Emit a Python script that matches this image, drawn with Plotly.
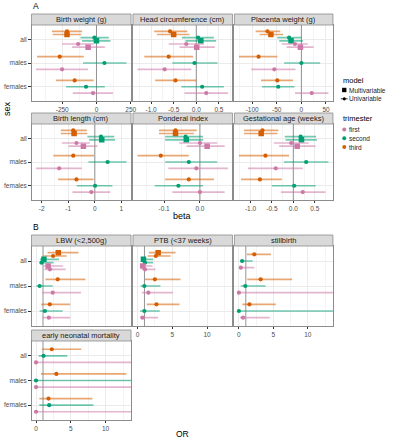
import plotly.graph_objects as go

W, H = 400, 440
FONT = "Liberation Sans, Arial, Helvetica, sans-serif"

# ---------------- categories ----------------
sexes = ["all", "males", "females"]
sex_pos = [3, 2, 1]
trimesters = ["first", "second", "third"]
tri_colors = ["#CC79A7", "#009E73", "#D55E00"]
tri_line_colors = ["rgba(204,121,167,0.55)", "rgba(0,158,115,0.55)", "rgba(213,94,0,0.55)"]
model_names = ["Multivariable", "Univariable"]

# ---------------- data (rows: all, males, females; cols: first, second, third) ----------------
# Birth weight (g)
bw_uni_est = [[-134, -15, -215], [-251, 58, -268], [-25, -76, -159]]
bw_uni_lo = [[-251, -117, -325], [-441, -98, -434], [-173, -222, -295]]
bw_uni_hi = [[-20, 90, -105], [-61, 219, -93], [121, 61, -20]]
bw_multi_est = [-61, 0, -215]
bw_multi_lo = [-178, -105, -320]
bw_multi_hi = [61, 102, -110]
bw_ticks = [-250, 0, 250]
bw_ticklabels = ["-250", "0", "250"]

# Head circumference (cm)
hc_uni_est = [[-0.22, 0.04, -0.58], [-0.70, -0.04, -0.61], [0.22, 0.13, -0.46]]
hc_uni_lo = [[-0.61, -0.32, -0.93], [-1.30, -0.53, -1.15], [-0.26, -0.33, -0.91]]
hc_uni_hi = [[0.17, 0.39, -0.20], [-0.11, 0.47, -0.07], [0.70, 0.61, 0.0]]
hc_multi_est = [0.01, 0.10, -0.50]
hc_multi_lo = [-0.37, -0.24, -0.87]
hc_multi_hi = [0.41, 0.44, -0.15]
hc_ticks = [-1.0, -0.5, 0.0, 0.5]
hc_ticklabels = ["-1.0", "-0.5", "0.0", "0.5"]

# Placenta weight (g)
pw_uni_est = [[-13, -25, -69], [-55, 0, -87], [21, -47, -49]]
pw_uni_lo = [[-40, -49, -93], [-102, -35, -127], [-13, -80, -82]]
pw_uni_hi = [[13, 0, -43], [-12, 38, -49], [55, -14, -17]]
pw_multi_est = [-2, -21, -62]
pw_multi_lo = [-30, -45, -85]
pw_multi_hi = [25, 3, -37]
pw_ticks = [-100, -50, 0, 50]
pw_ticklabels = ["-100", "-50", "0", "50"]

# Birth length (cm)
bl_uni_est = [[-0.69, 0.23, -0.81], [-1.34, 0.48, -0.81], [-0.13, 0.01, -0.69]]
bl_uni_lo = [[-1.24, -0.28, -1.28], [-2.21, -0.24, -1.56], [-0.84, -0.68, -1.38]]
bl_uni_hi = [[-0.19, 0.73, -0.30], [-0.49, 1.19, -0.03], [0.58, 0.66, -0.05]]
bl_multi_est = [-0.43, 0.26, -0.78]
bl_multi_lo = [-0.99, -0.21, -1.28]
bl_multi_hi = [0.10, 0.76, -0.28]
bl_ticks = [-2, -1, 0, 1]
bl_ticklabels = ["-2", "-1", "0", "1"]

# Ponderal index
pi_uni_est = [[0.0, -0.040, -0.068], [-0.010, -0.031, -0.109], [0.0, -0.060, -0.031]]
pi_uni_lo = [[-0.058, -0.097, -0.114], [-0.088, -0.097, -0.174], [-0.077, -0.126, -0.097]]
pi_uni_hi = [[0.048, 0.009, -0.009], [0.078, 0.048, -0.031], [0.069, 0.009, 0.039]]
pi_multi_est = [0.020, -0.038, -0.068]
pi_multi_lo = [-0.037, -0.097, -0.114]
pi_multi_hi = [0.069, 0.009, -0.017]
pi_ticks = [-0.1, 0.0]
pi_ticklabels = ["-0.1", "0.0"]

# Gestational age (weeks)
ga_uni_est = [[-0.05, 0.17, -0.72], [-0.41, 0.30, -0.65], [0.22, 0.02, -0.78]]
ga_uni_lo = [[-0.45, -0.20, -1.15], [-1.06, -0.22, -1.27], [-0.29, -0.50, -1.22]]
ga_uni_hi = [[0.36, 0.53, -0.35], [0.22, 0.82, -0.10], [0.75, 0.52, -0.27]]
ga_multi_est = [0.09, 0.19, -0.75]
ga_multi_lo = [-0.33, -0.18, -1.15]
ga_multi_hi = [0.52, 0.55, -0.37]
ga_ticks = [-1.0, -0.5, 0.0, 0.5]
ga_ticklabels = ["-1.0", "-0.5", "0.0", "0.5"]

# LBW (<2,500g)
lbw_uni_est = [[2.0, 0.8, 2.45], [2.4, 0.52, 3.11], [1.84, 1.27, 1.98]]
lbw_uni_lo = [[1.2, 0.45, 1.1], [0.9, 0.05, 1.37], [0.9, 0.52, 0.75]]
lbw_uni_hi = [[4.25, 2.5, 4.4], [6.46, 2.4, 7.1], [4.9, 3.82, 4.9]]
lbw_multi_est = [1.74, 1.13, 3.2]
lbw_multi_lo = [1.08, 0.55, 1.65]
lbw_multi_hi = [3.9, 3.3, 6.1]

# PTB (<37 weeks)
ptb_uni_est = [[1.08, 1.08, 2.64], [1.56, 0.99, 2.5], [0.71, 0.99, 2.73]]
ptb_uni_lo = [[0.61, 0.71, 1.46], [0.61, 0.47, 1.08], [0.38, 0.38, 1.32]]
ptb_uni_hi = [[2.59, 2.26, 4.76], [5.1, 3.3, 6.18], [2.97, 3.2, 6.04]]
ptb_multi_est = [0.75, 0.85, 2.97]
ptb_multi_lo = [0.47, 0.52, 1.65]
ptb_multi_hi = [2.16, 2.26, 5.47]

# stillbirth
sb_uni_est = [[0.28, 0.47, 2.23], [0.0, 0.93, 3.16], [0.6, 0.0, 1.53]]
sb_uni_lo = [[0.0, 0.14, 1.16], [0.0, 0.28, 1.21], [0.14, 0.0, 0.51]]
sb_uni_hi = [[2.23, 2.0, 4.65], [40.0, 3.86, 7.72], [4.47, 40.0, 5.35]]

# early neonatal mortality
end_uni_est = [[0.0, 1.08, 2.26], [0.0, 0.0, 2.92], [0.0, 1.89, 1.79]]
end_uni_lo = [[0.0, 0.38, 0.85], [0.0, 0.0, 0.71], [0.0, 0.47, 0.47]]
end_uni_hi = [[40.0, 4.48, 6.5], [40.0, 40.0, 12.97], [40.0, 8.25, 8.1]]

or_xlim = [0, 13]
or_ticks = [0, 5, 10]
or_ticklabels = ["0", "5", "10"]

# ---------------- layout geometry (pixels) ----------------
cols = [(32, 133), (135, 236), (238, 338)]
A_rows = [(14, 25, 101), (113, 124, 200)]   # strip top, panel top, panel bottom
B_rows = [(235, 246, 326), (330, 341, 420)]
Y_RANGE = [0.4, 3.6]

GRID = "#EBEBEB"
MINOR = "#F4F4F4"
BORDER = "#8c8c8c"
STRIP_FILL = "#D9D9D9"
TICKCOL = "#4D4D4D"

panels = [
    dict(title="Birth weight (g)", uni=(bw_uni_est, bw_uni_lo, bw_uni_hi),
         multi=(bw_multi_est, bw_multi_lo, bw_multi_hi), ticks=bw_ticks, labels=bw_ticklabels,
         col=0, row=A_rows[0], part="A", xlab=True, ylab=True),
    dict(title="Head circumference (cm)", uni=(hc_uni_est, hc_uni_lo, hc_uni_hi),
         multi=(hc_multi_est, hc_multi_lo, hc_multi_hi), ticks=hc_ticks, labels=hc_ticklabels,
         col=1, row=A_rows[0], part="A", xlab=True, ylab=False),
    dict(title="Placenta weight (g)", uni=(pw_uni_est, pw_uni_lo, pw_uni_hi),
         multi=(pw_multi_est, pw_multi_lo, pw_multi_hi), ticks=pw_ticks, labels=pw_ticklabels,
         col=2, row=A_rows[0], part="A", xlab=True, ylab=False),
    dict(title="Birth length (cm)", uni=(bl_uni_est, bl_uni_lo, bl_uni_hi),
         multi=(bl_multi_est, bl_multi_lo, bl_multi_hi), ticks=bl_ticks, labels=bl_ticklabels,
         col=0, row=A_rows[1], part="A", xlab=True, ylab=True),
    dict(title="Ponderal index", uni=(pi_uni_est, pi_uni_lo, pi_uni_hi),
         multi=(pi_multi_est, pi_multi_lo, pi_multi_hi), ticks=pi_ticks, labels=pi_ticklabels,
         col=1, row=A_rows[1], part="A", xlab=True, ylab=False),
    dict(title="Gestational age (weeks)", uni=(ga_uni_est, ga_uni_lo, ga_uni_hi),
         multi=(ga_multi_est, ga_multi_lo, ga_multi_hi), ticks=ga_ticks, labels=ga_ticklabels,
         col=2, row=A_rows[1], part="A", xlab=True, ylab=False),
    dict(title="LBW (<2,500g)", uni=(lbw_uni_est, lbw_uni_lo, lbw_uni_hi),
         multi=(lbw_multi_est, lbw_multi_lo, lbw_multi_hi), ticks=or_ticks, labels=or_ticklabels,
         col=0, row=B_rows[0], part="B", xlab=False, ylab=True),
    dict(title="PTB (<37 weeks)", uni=(ptb_uni_est, ptb_uni_lo, ptb_uni_hi),
         multi=(ptb_multi_est, ptb_multi_lo, ptb_multi_hi), ticks=or_ticks, labels=or_ticklabels,
         col=1, row=B_rows[0], part="B", xlab=True, ylab=False),
    dict(title="stillbirth", uni=(sb_uni_est, sb_uni_lo, sb_uni_hi), multi=None,
         ticks=or_ticks, labels=or_ticklabels, col=2, row=B_rows[0], part="B", xlab=True, ylab=False),
    dict(title="early neonatal mortality", uni=(end_uni_est, end_uni_lo, end_uni_hi), multi=None,
         ticks=or_ticks, labels=or_ticklabels, col=0, row=B_rows[1], part="B", xlab=True, ylab=True),
]


def expand(lo, hi, f=0.05):
    span = hi - lo
    return [lo - f * span, hi + f * span]


def minor_vals(ticks):
    step = ticks[1] - ticks[0]
    return [ticks[0] - step / 2 + k * step for k in range(len(ticks) + 1)]


fig = go.Figure()
layout = dict(
    width=W, height=H, margin=dict(l=0, r=0, t=0, b=0),
    paper_bgcolor="white", plot_bgcolor="white", showlegend=False,
    font=dict(family=FONT, size=7, color="#1A1A1A"),
)
shapes = []
annotations = []

for k, p in enumerate(panels, start=1):
    xs = "" if k == 1 else str(k)
    x0, x1 = cols[p["col"]]
    st, pt, pb = p["row"]

    ue, ul, uh = p["uni"]
    if p["part"] == "A":
        all_lo = [v for r in ul for v in r] + (list(p["multi"][1]) if p["multi"] else [])
        all_hi = [v for r in uh for v in r] + (list(p["multi"][2]) if p["multi"] else [])
        xr = expand(min(all_lo), max(all_hi))
        ref = 0
        model_order = ["uni", "multi"]
    else:
        xr = expand(*or_xlim)
        ref = 1
        model_order = ["multi", "uni"]

    # reference line (drawn first, under the points)
    fig.add_trace(go.Scatter(
        x=[ref, ref], y=Y_RANGE, mode="lines", xaxis="x" + xs, yaxis="y" + xs,
        line=dict(color="#7a7a7a", width=0.8), hoverinfo="skip", cliponaxis=True,
    ))

    # build dodged items
    groups = {}
    for si, s in enumerate(sexes):
        items = []
        for t in [2, 1, 0]:
            for m in model_order:
                if m == "uni":
                    items.append((t, m, ue[si][t], ul[si][t], uh[si][t]))
                elif p["multi"] is not None and s == "all":
                    me, ml, mh = p["multi"]
                    items.append((t, m, me[t], ml[t], mh[t]))
        n = len(items)
        for i, (t, m, e, lo, hi) in enumerate(items):
            yv = sex_pos[si] + 0.8 * ((n - 1) / 2 - i) / n
            g = groups.setdefault((t, m), dict(x=[], y=[], plus=[], minus=[]))
            g["x"].append(e)
            g["y"].append(yv)
            g["plus"].append(hi - e)
            g["minus"].append(e - lo)

    for (t, m), g in groups.items():
        fig.add_trace(go.Scatter(
            x=g["x"], y=g["y"], mode="markers",
            xaxis="x" + xs, yaxis="y" + xs,
            marker=dict(symbol="square" if m == "multi" else "circle",
                        size=5.5 if m == "multi" else 4.2,
                        color=tri_colors[t], line=dict(width=0)),
            error_x=dict(type="data", symmetric=False, array=g["plus"], arrayminus=g["minus"],
                         color=tri_line_colors[t], thickness=1.7, width=0),
            name=f"{trimesters[t]} {m}", hoverinfo="skip",
        ))

    layout["xaxis" + xs] = dict(
        domain=[x0 / W, x1 / W], anchor="y" + xs, range=xr,
        tickmode="array", tickvals=p["ticks"], ticktext=p["labels"],
        showticklabels=p["xlab"], ticks="outside" if p["xlab"] else "",
        ticklen=2.5, tickwidth=0.6, tickcolor="#333333",
        tickfont=dict(size=6.5, color=TICKCOL, family=FONT),
        showgrid=True, gridcolor=GRID, gridwidth=0.8,
        minor=dict(tickmode="array", tickvals=minor_vals(p["ticks"]), showgrid=True,
                   gridcolor=MINOR, gridwidth=0.5, ticks=""),
        zeroline=False, showline=True, mirror=True, linecolor=BORDER, linewidth=0.8,
        fixedrange=True,
    )
    layout["yaxis" + xs] = dict(
        domain=[1 - pb / H, 1 - pt / H], anchor="x" + xs, range=Y_RANGE,
        tickmode="array", tickvals=sex_pos, ticktext=sexes,
        showticklabels=p["ylab"], ticks="outside" if p["ylab"] else "",
        ticklen=2.5, tickwidth=0.6, tickcolor="#333333",
        tickfont=dict(size=6.5, color=TICKCOL, family=FONT),
        showgrid=True, gridcolor=GRID, gridwidth=0.8,
        zeroline=False, showline=True, mirror=True, linecolor=BORDER, linewidth=0.8,
        fixedrange=True,
    )

    # strip
    shapes.append(dict(type="rect", xref="paper", yref="paper",
                       x0=x0 / W, x1=x1 / W, y0=1 - pt / H, y1=1 - st / H,
                       fillcolor=STRIP_FILL, line=dict(color=BORDER, width=0.8), layer="above"))
    annotations.append(dict(text=p["title"], xref="paper", yref="paper",
                            x=(x0 + x1) / 2 / W, y=1 - (st + pt) / 2 / H,
                            xanchor="center", yanchor="middle", showarrow=False,
                            font=dict(size=7.5, color="#1A1A1A", family=FONT)))

# section labels and axis titles
annotations += [
    dict(text="A", x=31 / W, y=1 - 6 / H, xanchor="left", yanchor="middle",
         font=dict(size=8.5, color="black", family=FONT)),
    dict(text="B", x=31 / W, y=1 - 227 / H, xanchor="left", yanchor="middle",
         font=dict(size=8.5, color="black", family=FONT)),
    dict(text="sex", x=7 / W, y=1 - 108 / H, xanchor="center", yanchor="middle", textangle=-90,
         font=dict(size=9, color="black", family=FONT)),
    dict(text="beta", x=185 / W, y=1 - 216 / H, xanchor="center", yanchor="middle",
         font=dict(size=9, color="black", family=FONT)),
    dict(text="OR", x=185 / W, y=1 - 434 / H, xanchor="center", yanchor="middle",
         font=dict(size=8.5, color="black", family=FONT), borderpad=0),
]
for a in annotations:
    a.setdefault("xref", "paper")
    a.setdefault("yref", "paper")
    a.setdefault("showarrow", False)

# ---------------- manual legend ----------------
LX_TITLE, LX_KEY, LX_LABEL = 346, 349.5, 353
legend_model_y = [90, 98.8]
legend_tri_y = [129.5, 138.3, 147]
annotations.append(dict(text="model", xref="paper", yref="paper", x=LX_TITLE / W, y=1 - 80 / H,
                        xanchor="left", yanchor="middle", showarrow=False,
                        font=dict(size=7.5, color="black", family=FONT)))
annotations.append(dict(text="trimester", xref="paper", yref="paper", x=LX_TITLE / W, y=1 - 118 / H,
                        xanchor="left", yanchor="middle", showarrow=False,
                        font=dict(size=7.5, color="black", family=FONT)))
for name, yy, half in zip(model_names, legend_model_y, [2.2, 1.6]):
    if name == "Multivariable":
        shapes.append(dict(type="rect", xref="paper", yref="paper",
                           x0=(LX_KEY - half) / W, x1=(LX_KEY + half) / W,
                           y0=1 - (yy + half) / H, y1=1 - (yy - half) / H,
                           fillcolor="black", line=dict(width=0)))
    else:
        shapes.append(dict(type="circle", xref="paper", yref="paper",
                           x0=(LX_KEY - half) / W, x1=(LX_KEY + half) / W,
                           y0=1 - (yy + half) / H, y1=1 - (yy - half) / H,
                           fillcolor="black", line=dict(width=0)))
        shapes.append(dict(type="line", xref="paper", yref="paper",
                           x0=(LX_KEY - 3.5) / W, x1=(LX_KEY + 3.5) / W,
                           y0=1 - yy / H, y1=1 - yy / H, line=dict(color="black", width=0.8)))
    annotations.append(dict(text=name, xref="paper", yref="paper", x=LX_LABEL / W, y=1 - yy / H,
                            xanchor="left", yanchor="middle", showarrow=False, borderpad=0,
                            font=dict(size=6.5, color="#1A1A1A", family=FONT)))
for t, yy in enumerate(legend_tri_y):
    shapes.append(dict(type="circle", xref="paper", yref="paper",
                       x0=(LX_KEY - 2) / W, x1=(LX_KEY + 2) / W,
                       y0=1 - (yy + 2) / H, y1=1 - (yy - 2) / H,
                       fillcolor=tri_colors[t], line=dict(width=0)))
    annotations.append(dict(text=trimesters[t], xref="paper", yref="paper", x=LX_LABEL / W, y=1 - yy / H,
                            xanchor="left", yanchor="middle", showarrow=False, borderpad=0,
                            font=dict(size=6.5, color="#1A1A1A", family=FONT)))

layout["shapes"] = shapes
layout["annotations"] = annotations
fig.update_layout(**layout)
fig.write_html(
    "out.html",
    config={"displayModeBar": False},
    post_script="document.body.style.margin='0';document.body.style.padding='0';",
)
